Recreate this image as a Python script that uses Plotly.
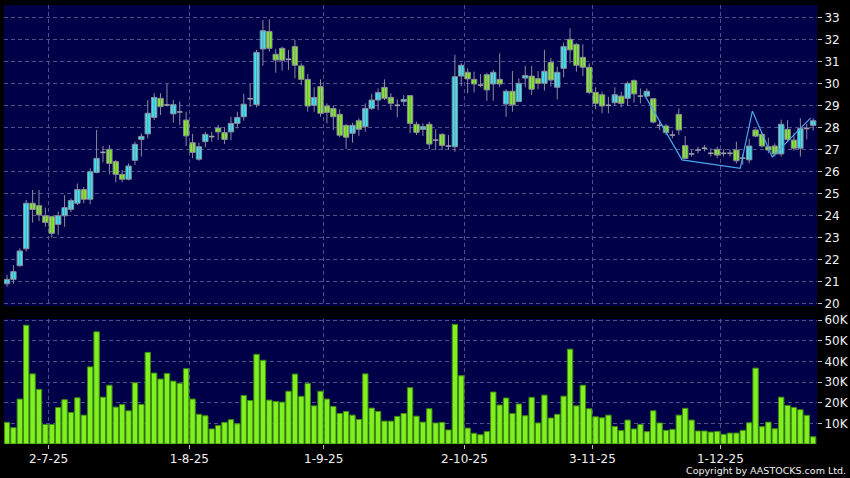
import plotly.graph_objects as go

# ---------------- data ----------------
opens = [20.89, 21.09, 21.71, 22.48, 24.55, 24.44, 23.98, 23.94, 23.59, 23.98,
         24.27, 24.55, 25.17, 24.73, 25.95, 26.86, 27.00, 26.44, 25.86, 25.64,
         26.50, 27.45, 27.70, 28.45, 29.32, 29.02, 28.61, 28.70, 28.33, 27.30,
         26.55, 27.35, 27.58, 27.97, 27.76, 27.79, 28.18, 28.48, 29.30, 29.03,
         31.56, 32.36, 31.32, 31.59, 31.09, 31.67, 30.79, 30.18, 29.00, 29.85,
         28.97, 28.86, 28.59, 28.09, 27.73, 28.30, 28.03, 28.86, 29.24, 29.82,
         29.36, 29.00, 29.18, 29.44, 28.14, 27.91, 28.14, 27.42, 27.68, 27.15,
         27.12, 30.33, 30.50, 30.18, 29.92, 30.39, 29.97, 30.18, 29.06, 29.64,
         29.17, 30.24, 30.33, 30.21, 30.00, 30.95, 29.82, 30.68, 32.00, 31.77,
         31.18, 30.73, 29.59, 29.48, 29.00, 29.12, 29.42, 29.32, 30.12, 29.42,
         29.42, 29.30, 28.09, 28.06, 27.65, 28.59, 27.17, 26.79, 26.97, 27.05,
         26.82, 27.00, 26.82, 26.82, 26.97, 26.60, 26.52, 27.88, 27.68, 27.12,
         27.15, 26.79, 27.91, 27.42, 27.05, 27.95, 28.09]
highs = [21.29, 21.74, 22.50, 24.70, 25.15, 25.15, 24.35, 23.98, 24.17, 24.92,
         24.77, 25.45, 25.29, 26.14, 27.88, 27.15, 27.20, 26.52, 26.06, 26.36,
         27.35, 27.73, 29.24, 29.55, 29.55, 29.97, 29.24, 29.17, 28.71, 27.70,
         27.30, 27.80, 27.80, 28.11, 28.00, 28.48, 28.71, 29.52, 29.97, 31.52,
         32.88, 32.91, 31.55, 31.67, 31.52, 31.97, 30.91, 30.42, 29.82, 30.18,
         29.09, 28.97, 28.82, 28.15, 28.21, 28.41, 29.09, 29.52, 29.77, 30.18,
         29.55, 29.27, 29.47, 29.47, 28.26, 28.18, 28.26, 27.91, 27.73, 27.65,
         31.29, 30.91, 30.68, 30.53, 30.42, 30.48, 30.61, 31.36, 29.73, 30.56,
         30.23, 30.79, 30.79, 30.56, 31.52, 31.15, 30.76, 31.85, 32.50, 31.82,
         31.77, 30.91, 29.82, 29.62, 29.39, 29.82, 29.62, 30.08, 30.18, 29.77,
         29.77, 29.30, 28.33, 28.15, 27.85, 28.86, 27.60, 26.97, 27.12, 27.20,
         27.05, 27.12, 27.00, 27.00, 27.35, 26.79, 27.48, 27.95, 27.76, 27.52,
         27.27, 28.35, 28.33, 27.73, 28.41, 28.15, 28.41]
lows = [20.76, 20.89, 21.67, 22.35, 23.67, 23.74, 23.48, 22.98, 23.11, 23.48,
        24.14, 24.47, 24.55, 24.50, 25.91, 26.41, 25.86, 25.50, 25.50, 25.59,
        26.29, 26.67, 27.50, 28.33, 28.56, 28.94, 28.21, 28.10, 27.15, 26.59,
        26.48, 27.09, 27.35, 27.42, 27.24, 27.42, 27.95, 28.30, 28.94, 28.91,
        30.80, 31.44, 30.48, 30.58, 30.61, 30.23, 29.92, 28.71, 28.71, 28.48,
        28.18, 27.88, 27.55, 27.02, 27.30, 27.61, 27.80, 28.79, 28.79, 29.24,
        28.79, 28.45, 29.02, 27.73, 27.65, 27.60, 27.00, 26.97, 26.97, 26.97,
        26.89, 29.88, 29.55, 29.58, 29.82, 29.20, 29.20, 29.82, 28.48, 28.71,
        29.17, 29.82, 29.47, 29.73, 29.67, 29.85, 29.27, 30.27, 30.91, 30.53,
        30.33, 29.52, 28.82, 28.64, 28.64, 28.97, 28.91, 28.97, 29.12, 29.09,
        29.36, 28.18, 27.88, 27.65, 27.50, 27.65, 26.55, 26.67, 26.82, 26.90,
        26.67, 26.59, 26.67, 26.67, 26.36, 26.30, 26.36, 27.55, 27.09, 26.82,
        26.67, 26.67, 27.35, 26.94, 26.67, 27.45, 27.85]
closes = [21.09, 21.44, 22.38, 24.55, 24.27, 24.02, 23.68, 23.18, 23.98, 24.35,
          24.67, 25.17, 24.73, 25.98, 26.59, 26.86, 26.36, 25.86, 25.64, 26.24,
          27.23, 27.59, 28.64, 29.36, 28.94, 29.02, 29.03, 28.70, 27.61, 26.86,
          27.12, 27.68, 27.58, 27.79, 27.45, 28.18, 28.45, 29.05, 29.30, 31.41,
          32.39, 31.59, 31.06, 31.05, 31.09, 30.82, 30.18, 28.97, 29.36, 28.64,
          28.68, 28.48, 27.64, 27.55, 28.09, 27.91, 28.86, 29.24, 29.58, 29.32,
          29.09, 29.00, 29.27, 28.18, 27.77, 28.03, 27.24, 27.42, 27.18, 27.15,
          30.30, 30.82, 30.20, 29.97, 29.92, 29.70, 30.50, 29.97, 29.64, 29.02,
          30.00, 30.35, 29.73, 30.00, 30.55, 30.15, 30.50, 31.67, 31.52, 30.82,
          30.73, 29.59, 29.09, 28.97, 29.00, 29.48, 29.09, 30.00, 29.52, 29.42,
          29.64, 28.24, 28.09, 27.76, 27.65, 27.88, 26.59, 26.79, 26.97, 27.05,
          26.82, 26.74, 26.82, 26.82, 26.48, 26.60, 27.15, 27.60, 27.15, 26.97,
          26.79, 28.14, 27.45, 27.05, 27.95, 27.95, 28.30]
volumes = [10500, 7900, 21800, 57600, 34000, 26500, 9500, 9500, 17700, 21500,
           15300, 22400, 14000, 37400, 54400, 22700, 28500, 17900, 19200, 16100,
           29700, 19200, 44400, 34400, 31500, 34200, 30500, 29400, 36500, 21800,
           14400, 13700, 7300, 9000, 10500, 11800, 9800, 23500, 21100, 43500,
           40600, 21300, 20600, 20300, 25600, 33900, 23100, 29400, 18500, 25600,
           21800, 18200, 14800, 15800, 14000, 11900, 34000, 17400, 15800, 11100,
           11100, 13400, 14800, 27300, 13500, 10600, 17100, 10200, 10500, 6800,
           58000, 33100, 7700, 5200, 4500, 6100, 25200, 18900, 22300, 14800,
           19400, 13700, 22600, 10200, 23700, 12600, 14400, 23200, 46000, 18500,
           28500, 17100, 13200, 12700, 14000, 8500, 6500, 11600, 7300, 9500,
           6000, 16100, 10200, 6600, 7100, 14000, 17300, 11600, 6300, 6300,
           5800, 6100, 4700, 5300, 5300, 6600, 10300, 36800, 8400, 10600,
           7400, 22700, 18700, 17700, 16600, 13900, 3500]

# index of the first trading day of each labelled month, and its label
month_first_idx = [7, 29, 50, 72, 92, 112]
month_labels = ["2-7-25", "1-8-25", "1-9-25", "2-10-25", "3-11-25", "1-12-25"]

# drawn trend line (index, price)
trend_x = [99.7, 105.5, 114.6, 116.5, 119.6, 125.6]
trend_y = [29.44, 26.52, 26.14, 28.74, 26.65, 28.42]

price_ticks = list(range(20, 34))
vol_ticks = [10000, 20000, 30000, 40000, 50000, 60000]
vol_labels = ["10K", "20K", "30K", "40K", "50K", "60K"]

# ---------------- styling ----------------
CYAN = "#33e8f7"
GREEN = "#80f020"
WICK = "#8a8a9a"
DOJI = "#a0a0a8"
NAVY = "#000048"
GRID = "#50508c"
TXT = "#f0f0f0"
FONT = "DejaVu Sans"
BODY_W = 0.84
HALF = BODY_W / 2

idx = list(range(len(closes)))
grid_pos = [m - 0.5 for m in month_first_idx]

# wick segments
wx, wy = [], []
for i, h, l in zip(idx, highs, lows):
    wx += [i, i, None]
    wy += [l, h, None]

# bodies (non-doji) and doji ticks
bx, bbase, bh, bcol = [], [], [], []
dx, dy = [], []
for i, o, c in zip(idx, opens, closes):
    if abs(c - o) < 1e-9:
        dx += [i - HALF, i + HALF, None]
        dy += [o, o, None]
    else:
        bx.append(i)
        bbase.append(min(o, c))
        bh.append(abs(c - o))
        bcol.append(CYAN if c > o else GREEN)

fig = go.Figure()
fig.add_trace(go.Scatter(
    x=wx, y=wy, mode="lines", line=dict(color=WICK, width=1),
    hoverinfo="skip", showlegend=False, xaxis="x", yaxis="y"))
fig.add_trace(go.Bar(
    x=bx, y=bh, base=bbase, width=BODY_W,
    marker=dict(color=bcol, line=dict(color=WICK, width=1)),
    hoverinfo="skip", showlegend=False, xaxis="x", yaxis="y"))
fig.add_trace(go.Scatter(
    x=dx, y=dy, mode="lines", line=dict(color=DOJI, width=1.6),
    hoverinfo="skip", showlegend=False, xaxis="x", yaxis="y"))
fig.add_trace(go.Scatter(
    x=trend_x, y=trend_y, mode="lines",
    line=dict(color="#4aa6e6", width=1.2),
    hoverinfo="skip", showlegend=False, xaxis="x", yaxis="y"))
fig.add_trace(go.Bar(
    x=idx, y=volumes, width=BODY_W,
    marker=dict(color=GREEN, line=dict(color="#3f8a12", width=1)),
    hoverinfo="skip", showlegend=False, xaxis="x2", yaxis="y2"))

xr = [-0.47, 126.6]
common_x = dict(range=xr, tickvals=grid_pos, showgrid=True, gridcolor=GRID,
                griddash="4px,3px", gridwidth=1, zeroline=False, showline=False,
                fixedrange=True, automargin=False)

fig.update_layout(
    width=850, height=478,
    margin=dict(l=4, r=33, t=5, b=34, autoexpand=False),
    paper_bgcolor="#000000", plot_bgcolor=NAVY,
    font=dict(family=FONT, size=12, color=TXT),
    barmode="overlay",
    bargap=0,
    xaxis=dict(domain=[0, 1], anchor="y", showticklabels=False, ticks="",
               **common_x),
    xaxis2=dict(domain=[0, 1], anchor="y2", ticktext=month_labels,
                showticklabels=True, ticks="outside", ticklen=4,
                tickcolor="#bbbbbb", tickfont=dict(size=12, color=TXT),
                **common_x),
    yaxis=dict(domain=[0.3144, 1], anchor="x", side="right",
               range=[19.88, 33.56], tickvals=price_ticks,
               ticks="outside", ticklen=4, tickcolor="#bbbbbb",
               showgrid=True, gridcolor=GRID, griddash="4px,3px",
               zeroline=False, showline=False, fixedrange=True,
               automargin=False, tickfont=dict(size=12, color=TXT)),
    yaxis2=dict(domain=[0, 0.2847], anchor="x2", side="right",
                range=[0, 60600], tickvals=vol_ticks, ticktext=vol_labels,
                ticks="outside", ticklen=4, tickcolor="#bbbbbb",
                showgrid=True, gridcolor=GRID, griddash="4px,3px",
                zeroline=False, showline=False, fixedrange=True,
                automargin=False, tickfont=dict(size=12, color=TXT)),
    annotations=[dict(text="Copyright by AASTOCKS.com Ltd.", xref="paper",
                      yref="paper", x=1.038, y=-0.06, xanchor="right",
                      yanchor="middle", showarrow=False,
                      font=dict(family=FONT, size=9.5, color=TXT))],
)

fig.write_html(
    "out.html",
    config={"displayModeBar": False, "staticPlot": True},
    post_script="document.body.style.margin='0';document.body.style.padding='0';"
                "document.body.style.background='#000';",
)
